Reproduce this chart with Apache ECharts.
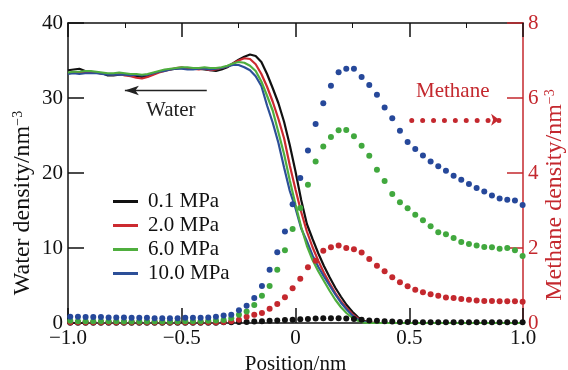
<!DOCTYPE html>
<html>
<head>
<meta charset="utf-8">
<script src="https://cdn.jsdelivr.net/npm/echarts@6/dist/echarts.min.js"></script>
<style>
  html, body { margin: 0; padding: 0; background: #fff; }
  #chart { width: 568px; height: 370px; }
</style>
</head>
<body>
<div id="chart"></div>
<script>
// Pressure cases
const pressures = ['0.1 MPa', '2.0 MPa', '6.0 MPa', '10.0 MPa'];

// Water density profiles (nm^-3): grid -1.0 .. 0.35 every 0.025 nm, then bulk-methane side
const waterPos = Array.from({ length: 55 }, (_, j) => +(-1 + j * 0.025).toFixed(3)).concat([0.5, 0.75, 1.0]);
const water01 = [33.7,33.8,33.9,33.6,33.5,33.4,33.3,33.0,33.0,33.1,33.2,33.0,32.9,32.8,32.9,33.2,33.5,33.7,33.8,33.9,
  34.0,33.9,34.0,33.9,33.8,33.7,33.6,33.8,34.1,34.6,35.1,35.5,35.8,35.6,34.8,33.2,31.3,29.3,26.8,23.7,
  20.2,16.4,13.2,11.2,9.3,7.6,6.1,4.7,3.5,2.4,1.5,0.75,0.3,0.08,0, 0,0,0];
const water20 = [33.3,33.4,33.4,33.5,33.4,33.4,33.2,33.2,33.1,33.2,33.0,32.9,32.7,32.6,32.8,33.1,33.4,33.6,33.8,34.0,
  34.1,33.9,33.9,33.8,33.9,33.7,33.8,34.0,34.2,34.6,35.0,35.3,35.2,34.5,33.2,31.5,29.5,27.2,24.6,21.0,
  17.8,14.8,12.2,10.1,8.3,6.7,5.3,4.0,2.9,2.0,1.2,0.6,0.2,0.05,0, 0,0,0];
const water60 = [33.4,33.5,33.5,33.6,33.6,33.5,33.4,33.3,33.3,33.4,33.3,33.2,33.2,33.1,33.2,33.4,33.6,33.8,33.9,34.0,
  34.1,34.1,34.0,34.0,34.1,34.0,34.0,34.1,34.3,34.6,34.8,34.7,34.3,33.6,32.2,30.3,28.3,25.4,22.5,19.0,
  15.8,12.8,10.3,8.4,6.9,5.6,4.3,3.1,2.1,1.3,0.7,0.3,0.05,0,0, 0,0,0];
const water100 = [33.2,33.3,33.2,33.3,33.3,33.3,33.2,33.1,33.1,33.1,33.1,33.0,33.1,33.0,33.1,33.3,33.5,33.6,33.8,33.9,
  33.9,33.8,33.8,33.9,33.9,33.8,33.9,34.0,34.2,34.4,34.4,34.1,33.7,32.9,31.6,29.0,26.7,24.0,20.7,17.6,
  15.3,12.6,10.9,9.0,7.5,6.2,5.0,3.8,2.7,1.8,1.0,0.45,0.15,0.02,0, 0,0,0];

// Methane density profiles (nm^-3), bin centres across the interface
const methanePos = Array.from({ length: 60 }, (_, i) => +(-0.99 + i * 0.0337).toFixed(4));
const methane01 = [0.01,0.01,0.01,0.01,0.01,0.01,0.01,0.01,0.01,0.01,0.01,0.01,0.01,0.01,0.01,0.01,0.01,0.01,0.01,0.01,
  0.02,0.02,0.03,0.03,0.04,0.05,0.06,0.07,0.08,0.09,0.10,0.11,0.12,0.13,0.13,0.13,0.12,0.11,0.09,0.07,
  0.06,0.05,0.04,0.03,0.03,0.02,0.02,0.02,0.02,0.02,0.02,0.02,0.02,0.02,0.02,0.02,0.02,0.02,0.02,0.02];
const methane20 = [0.02,0.02,0.02,0.02,0.02,0.02,0.02,0.02,0.02,0.02,0.02,0.02,0.02,0.02,0.02,0.02,0.02,0.02,0.02,0.02,
  0.03,0.05,0.09,0.17,0.22,0.27,0.38,0.51,0.69,0.93,1.18,1.49,1.66,1.93,2.02,2.07,2.00,1.97,1.88,1.71,
  1.53,1.38,1.22,1.09,0.98,0.89,0.82,0.77,0.73,0.68,0.67,0.64,0.62,0.60,0.59,0.59,0.58,0.58,0.58,0.57];
const methane60 = [0.06,0.05,0.05,0.05,0.05,0.05,0.05,0.04,0.04,0.04,0.04,0.04,0.04,0.04,0.04,0.05,0.05,0.05,0.06,0.07,
  0.08,0.13,0.22,0.31,0.48,0.73,0.99,1.42,1.94,2.51,3.07,3.69,4.31,4.71,4.96,5.14,5.15,4.98,4.73,4.46,
  4.09,3.79,3.44,3.22,3.06,2.89,2.74,2.58,2.42,2.37,2.27,2.16,2.11,2.07,2.03,2.02,1.98,2.00,1.94,1.79];
const methane100 = [0.17,0.17,0.16,0.16,0.16,0.15,0.15,0.15,0.14,0.14,0.14,0.13,0.13,0.13,0.13,0.14,0.14,0.14,0.15,0.17,
  0.20,0.22,0.34,0.46,0.67,0.99,1.42,1.89,2.44,3.17,3.87,4.60,5.31,5.86,6.33,6.69,6.78,6.78,6.56,6.35,
  6.09,5.75,5.46,5.13,4.83,4.64,4.47,4.31,4.18,4.06,3.93,3.82,3.71,3.60,3.51,3.40,3.32,3.29,3.27,3.15];

// Axis ticks
const xTicks = { min: -1, max: 1, step: 0.5 };
const waterTicks = { min: 0, max: 40, step: 10 };
const methaneTicks = { min: 0, max: 8, step: 2 };

const lineColors = ['#111111', '#cc2a30', '#4fae3e', '#2c4f98'];
const dotColors = ['#111111', '#c4282e', '#41a83e', '#26489a'];
const RED = '#c4282e';
const FONT = 'Liberation Serif';
const FS = 21;
const NAME_FS = 24;

const waterSets = [water01, water20, water60, water100];
const methaneSets = [methane01, methane20, methane60, methane100];

const pair = (xs, ys) => xs.map((x, i) => [x, ys[i]]);

const series = [];
waterSets.forEach((ys, k) => {
  series.push({
    name: pressures[k],
    type: 'line',
    xAxisIndex: 0,
    yAxisIndex: 0,
    data: pair(waterPos, ys),
    showSymbol: false,
    lineStyle: { color: lineColors[k], width: 2.2 },
    itemStyle: { color: lineColors[k] },
    z: 2 + (k === 2 ? 0.5 : 0)
  });
});
methaneSets.forEach((ys, k) => {
  series.push({
    name: pressures[k],
    type: 'scatter',
    xAxisIndex: 0,
    yAxisIndex: 1,
    data: pair(methanePos, ys),
    symbolSize: 6,
    itemStyle: { color: dotColors[k], opacity: 1 },
    z: 4 + k
  });
});

// Arrow pointing to the water (left) axis
series[0].markLine = {
  silent: true,
  animation: false,
  symbol: ['none', 'arrow'],
  symbolSize: [7, 14],
  label: { show: false },
  lineStyle: { color: '#222', width: 1.3, type: 'solid' },
  data: [[{ coord: [-0.39, 31.0] }, { coord: [-0.75, 31.0] }]]
};
// Dotted arrow pointing to the methane (right) axis
series[5].markLine = {
  silent: true,
  animation: false,
  symbol: ['none', 'arrow'],
  symbolSize: [9, 8],
  label: { show: false },
  lineStyle: { color: RED, width: 5, type: [0, 10.9], cap: 'round' },
  data: [[{ coord: [0.511, 5.42] }, { coord: [0.895, 5.42] }]]
};

const fmtX = v => {
  if (Math.abs(v) < 1e-9) return '0';
  return (v < 0 ? '\u2212' : '') + Math.abs(v).toFixed(1);
};

const chart = echarts.init(document.getElementById('chart'), null, { renderer: 'canvas' });
chart.setOption({
  animation: false,
  backgroundColor: '#fff',
  textStyle: { fontFamily: FONT },
  grid: { left: 68, right: 45, top: 23, bottom: 47, containLabel: false, outerBoundsMode: 'none' },
  legend: {
    data: pressures.map(n => ({ name: n, icon: 'rect' })),
    orient: 'vertical',
    left: 108,
    top: 186,
    itemWidth: 25,
    itemHeight: 3,
    itemGap: 3,
    selectedMode: false,
    textStyle: { fontFamily: FONT, fontSize: FS, color: '#111', padding: [0, 0, 0, 5] }
  },
  xAxis: [
    {
      type: 'value', position: 'bottom',
      min: xTicks.min, max: xTicks.max, interval: xTicks.step,
      name: 'Position/nm', nameLocation: 'middle', nameGap: 25,
      nameTextStyle: { fontFamily: FONT, fontSize: FS, color: '#111' },
      axisLine: { show: true, onZero: false, lineStyle: { color: '#111', width: 1.5 } },
      axisTick: { show: true, inside: true, length: 15, lineStyle: { color: '#111', width: 1.5 } },
      axisLabel: { formatter: fmtX, fontFamily: FONT, fontSize: FS, color: '#111', margin: 5 },
      splitLine: { show: false }
    },
    {
      type: 'value', position: 'top',
      min: xTicks.min, max: xTicks.max, interval: xTicks.step,
      axisLine: { show: true, onZero: false, lineStyle: { color: '#111', width: 1.5 } },
      axisTick: { show: true, inside: true, length: 14, lineStyle: { color: '#111', width: 1.5 } },
      minorTick: { show: true, splitNumber: 2, length: 5, lineStyle: { color: '#111', width: 1 } },
      axisLabel: { show: false },
      splitLine: { show: false }
    }
  ],
  yAxis: [
    {
      type: 'value', position: 'left',
      min: waterTicks.min, max: waterTicks.max, interval: waterTicks.step,
      name: 'Water density/nm{sup|\u22123}', nameLocation: 'middle', nameGap: 33, nameRotate: 90,
      nameMoveOverlap: false,
      nameTextStyle: {
        fontFamily: FONT, fontSize: NAME_FS, color: '#111', padding: [0, 60, 0, 0],
        rich: { sup: { fontFamily: FONT, fontSize: 14, color: '#111', verticalAlign: 'top', padding: [0, 0, 10, 0] } }
      },
      axisLine: { show: true, onZero: false, lineStyle: { color: '#111', width: 1.5 } },
      axisTick: { show: true, inside: true, length: 16, lineStyle: { color: '#111', width: 1.5 } },
      axisLabel: { fontFamily: FONT, fontSize: FS, color: '#111', margin: 5 },
      splitLine: { show: false }
    },
    {
      type: 'value', position: 'right',
      min: methaneTicks.min, max: methaneTicks.max, interval: methaneTicks.step,
      name: 'Methane density/nm{sup|\u22123}', nameLocation: 'middle', nameGap: 20, nameRotate: 90,
      nameMoveOverlap: false,
      nameTextStyle: {
        fontFamily: FONT, fontSize: NAME_FS, color: RED, padding: [0, 44, 0, 0],
        rich: { sup: { fontFamily: FONT, fontSize: 14, color: RED, verticalAlign: 'top', padding: [0, 0, 10, 0] } }
      },
      axisLine: { show: true, onZero: false, lineStyle: { color: RED, width: 1.5 } },
      axisTick: { show: true, inside: true, length: 16, lineStyle: { color: RED, width: 1.5 } },
      axisLabel: { fontFamily: FONT, fontSize: FS, color: RED, margin: 5 },
      splitLine: { show: false }
    }
  ],
  graphic: [
    { type: 'text', left: 146, top: 100, silent: true,
      style: { text: 'Water', fontFamily: FONT, fontSize: FS, fill: '#222' } },
    { type: 'text', left: 416, top: 81, silent: true,
      style: { text: 'Methane', fontFamily: FONT, fontSize: FS, fill: RED } }
  ],
  series
});
</script>
</body>
</html>
